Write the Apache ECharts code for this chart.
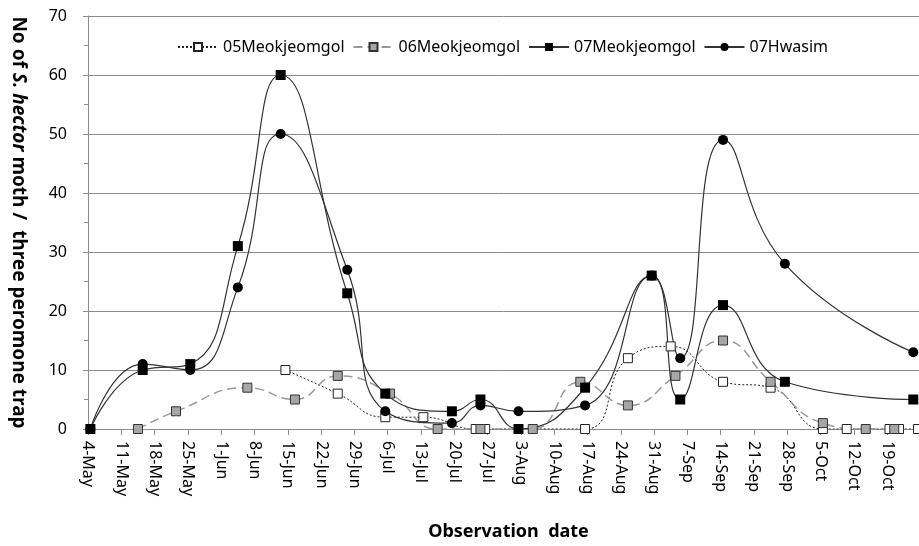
<!DOCTYPE html>
<html>
<head>
<meta charset="utf-8">
<script src="https://cdn.jsdelivr.net/npm/echarts@6/dist/echarts.min.js"></script>
<style>
html, body { margin: 0; padding: 0; background: #fff; }
#mothChart { width: 919px; height: 546px; }
</style>
</head>
<body>
<div id="mothChart"></div>
<script>
// data (dates are observation days)
var seriesNames = ['05Meokjeomgol', '06Meokjeomgol', '07Meokjeomgol', '07Hwasim'];

var dates05 = ['14-Jun', '25-Jun', '5-Jul', '13-Jul', '24-Jul', '26-Jul', '16-Aug', '25-Aug', '3-Sep', '14-Sep', '24-Sep', '5-Oct', '10-Oct', '19-Oct', '21-Oct', '25-Oct'];
var values05 = [10, 6, 2, 2, 0, 0, 0, 12, 14, 8, 7, 0, 0, 0, 0, 0];

var dates06 = ['14-May', '22-May', '6-Jun', '16-Jun', '25-Jun', '6-Jul', '16-Jul', '25-Jul', '5-Aug', '15-Aug', '25-Aug', '4-Sep', '14-Sep', '24-Sep', '5-Oct', '14-Oct', '20-Oct'];
var values06 = [0, 3, 7, 5, 9, 6, 0, 0, 0, 8, 4, 9, 15, 8, 1, 0, 0];

var dates07 = ['4-May', '15-May', '25-May', '4-Jun', '13-Jun', '27-Jun', '5-Jul', '19-Jul', '25-Jul', '2-Aug', '16-Aug', '30-Aug', '5-Sep', '14-Sep', '27-Sep', '24-Oct'];
var valuesMeok07 = [0, 10, 11, 31, 60, 23, 6, 3, 5, 0, 7, 26, 5, 21, 8, 5];
var valuesHwasim07 = [0, 11, 10, 24, 50, 27, 3, 1, 4, 3, 4, 26, 12, 49, 28, 13];

var yTicks = [0, 10, 20, 30, 40, 50, 60, 70];

var MONTHS = ['Jan', 'Feb', 'Mar', 'Apr', 'May', 'Jun', 'Jul', 'Aug', 'Sep', 'Oct', 'Nov', 'Dec'];
var START = Date.UTC(2007, 4, 4);
var DAY = 86400000;

function toDay(label) {
  var p = label.split('-');
  return Math.round((Date.UTC(2007, MONTHS.indexOf(p[1]), +p[0]) - START) / DAY);
}
function dayLabel(d) {
  var dt = new Date(START + d * DAY);
  return dt.getUTCDate() + '-' + MONTHS[dt.getUTCMonth()];
}
// points sit in the middle of their day, like the excel date axis
function pairs(dates, values) {
  return dates.map(function (d, i) { return [toDay(d) + 0.5, values[i]]; });
}

var font = "'Noto Sans', sans-serif";
var gridColor = '#8c8c8c';

var mothChart = echarts.init(document.getElementById('mothChart'));
var options = {
  animation: false,
  textStyle: { fontFamily: font },
  legend: {
    left: 172,
    top: 34,
    itemWidth: 40,
    itemHeight: 10,
    itemGap: 8,
    textStyle: { fontSize: 16, color: '#000', fontFamily: font },
    data: seriesNames
  },
  grid: {
    left: 88,
    top: 16,
    width: 832,
    height: 413
  },
  xAxis: {
    type: 'value',
    min: 0,
    max: 174.7,
    interval: 7,
    name: 'Observation  date',
    nameLocation: 'middle',
    nameGap: 94,
    nameTextStyle: { fontSize: 18, fontWeight: 'bold', color: '#000', fontFamily: font, padding: [0, 0, 0, 10] },
    axisLine: { show: true, lineStyle: { color: gridColor } },
    axisTick: { show: true, length: 6, lineStyle: { color: gridColor } },
    splitLine: { show: false },
    axisLabel: {
      rotate: -90,
      margin: 12,
      fontSize: 16,
      color: '#000',
      showMaxLabel: false,
      formatter: function (v) { return v % 7 === 0 ? dayLabel(v) : ''; }
    }
  },
  yAxis: {
    type: 'value',
    min: yTicks[0],
    max: yTicks[yTicks.length - 1],
    interval: 10,
    name: '{b|No of }{i|S. hector}{b| moth /  three peromone trap}',
    nameLocation: 'middle',
    nameRotate: -90,
    nameGap: 60,
    nameTextStyle: {
      rich: {
        b: { fontSize: 19, fontWeight: 'bold', color: '#000', fontFamily: font },
        i: { fontSize: 19, fontWeight: 'bold', fontStyle: 'italic', color: '#000', fontFamily: font }
      }
    },
    axisLine: { show: true, lineStyle: { color: gridColor } },
    axisTick: { show: true, length: 5, lineStyle: { color: gridColor } },
    minorTick: { show: true, splitNumber: 2, length: 4, lineStyle: { color: gridColor } },
    splitLine: { lineStyle: { color: gridColor } },
    axisLabel: { fontSize: 16, color: '#000', margin: 21 }
  },
  series: [
    {
      name: seriesNames[0],
      type: 'line',
      smooth: 0.5,
      data: pairs(dates05, values05),
      symbol: 'rect',
      symbolSize: 9,
      lineStyle: { color: '#222', width: 1, type: [2, 2] },
      itemStyle: { color: '#fff', borderColor: '#222', borderWidth: 1 }
    },
    {
      name: seriesNames[1],
      type: 'line',
      smooth: 0.5,
      data: pairs(dates06, values06),
      symbol: 'rect',
      symbolSize: 9,
      lineStyle: { color: '#999', width: 1.5, type: [9, 5] },
      itemStyle: { color: '#a6a6a6', borderColor: '#333', borderWidth: 1 }
    },
    {
      name: seriesNames[2],
      type: 'line',
      smooth: 0.5,
      data: pairs(dates07, valuesMeok07),
      symbol: 'rect',
      symbolSize: 10,
      lineStyle: { color: '#333', width: 1.2 },
      itemStyle: { color: '#000', borderColor: '#000', borderWidth: 0 }
    },
    {
      name: seriesNames[3],
      type: 'line',
      smooth: 0.5,
      data: pairs(dates07, valuesHwasim07),
      symbol: 'circle',
      symbolSize: 10,
      lineStyle: { color: '#333', width: 1.2 },
      itemStyle: { color: '#000', borderColor: '#000', borderWidth: 0 }
    }
  ]
};
mothChart.setOption(options);
</script>
</body>
</html>
